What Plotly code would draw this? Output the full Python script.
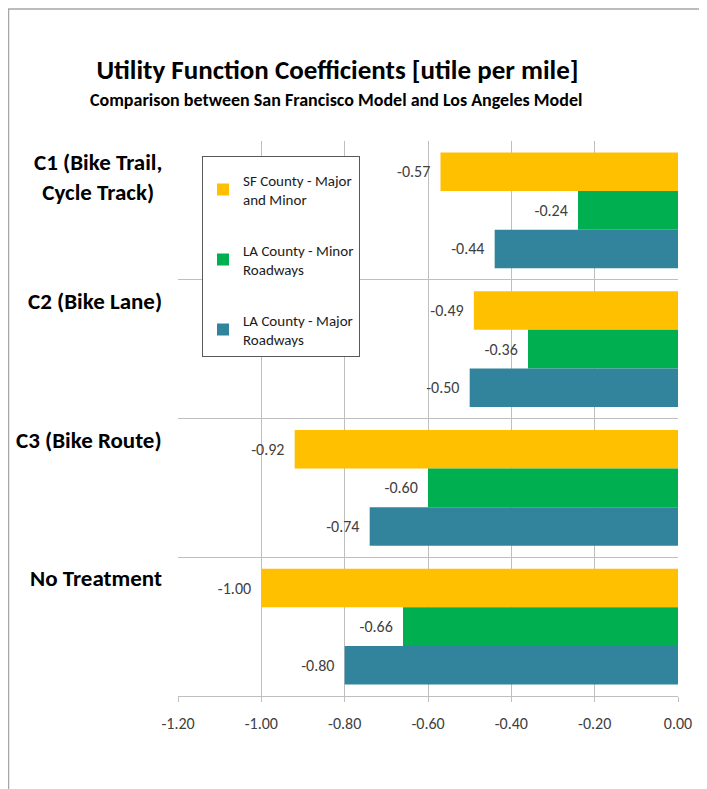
import plotly.graph_objects as go

categories = ["C1 (Bike Trail,<br>Cycle Track)", "C2 (Bike Lane)", "C3 (Bike Route)", "No Treatment"]
series_names = ["SF County - Major<br>and Minor", "LA County - Minor<br>Roadways", "LA County - Major<br>Roadways"]
sf_major_minor = [-0.57, -0.49, -0.92, -1.00]
la_minor = [-0.24, -0.36, -0.60, -0.66]
la_major = [-0.44, -0.50, -0.74, -0.80]
x_ticks = [-1.2, -1.0, -0.8, -0.6, -0.4, -0.2, 0.0]
x_tick_labels = ["-1.20", "-1.00", "-0.80", "-0.60", "-0.40", "-0.20", "0.00"]

colors = ["#FFC000", "#00B050", "#31849B"]
FONT = "Carlito, Lato, sans-serif"

OFF = 8  # browser body margin
W, H = 707 - OFF, 789 - OFF
L, R, T, B = 178 - OFF, 29, 141 - OFF, 93
pw = W - L - R
ph = H - T - B


def px_x(xw):
    return (xw - OFF - L) / pw


def px_y(yw):
    return (H - B - (yw - OFF)) / ph


ypos = list(range(len(categories)))
band_px = ph / len(categories)

fig = go.Figure()
for i, (name, vals) in enumerate(zip(series_names, [sf_major_minor, la_minor, la_major])):
    fig.add_trace(go.Bar(
        y=ypos, x=vals, orientation="h", name=name,
        marker=dict(color=colors[i], line=dict(width=0)),
        texttemplate="%{x:.2f}\u00a0\u00a0", textposition="outside",
        textfont=dict(family=FONT, size=16, color="#404040"),
        cliponaxis=False, legendgroup=f"g{i}",
    ))

boundaries = [y - 0.5 for y in ypos] + [ypos[-1] + 0.5]

annotations = []
for i, c in enumerate(categories):
    annotations.append(dict(
        text=f"<b>{c}</b>", xref="paper", yref="y",
        x=px_x(164), y=i - 0.5 + 5 / band_px,
        xanchor="right", yanchor="top", align="center", showarrow=False,
        font=dict(family=FONT, size=23, color="#000000"),
    ))

annotations.append(dict(
    text="<b>Comparison between San Francisco Model and Los Angeles Model</b>",
    xref="paper", yref="paper", x=px_x(335.5), y=px_y(100),
    xanchor="center", yanchor="middle", showarrow=False,
    font=dict(family=FONT, size=18, color="#000000"),
))

fig.update_layout(
    width=W, height=H,
    margin=dict(l=L, r=R, t=T, b=B, pad=0),
    paper_bgcolor="white", plot_bgcolor="white",
    barmode="group", bargap=0.167, bargroupgap=0,
    font=dict(family=FONT, color="#404040"),
    title=dict(text="<b>Utility Function Coefficients [utile per mile]</b>",
               x=(337.5 - OFF) / W, xref="container", xanchor="center",
               y=1 - (70 - OFF) / H, yref="container", yanchor="middle",
               font=dict(family=FONT, size=27, color="#000000")),
    xaxis=dict(range=[-1.2, 0.0], tickvals=x_ticks, ticktext=x_tick_labels,
               showgrid=True, gridcolor="#BFBFBF", gridwidth=1,
               zeroline=False, showline=True, linecolor="#BFBFBF", linewidth=1,
               ticks="outside", ticklen=5, tickcolor="#BFBFBF",
               ticklabelstandoff=8,
               tickfont=dict(family=FONT, size=16, color="#404040"),
               fixedrange=True),
    yaxis=dict(range=[ypos[-1] + 0.5, -0.5], tickvals=boundaries,
               showticklabels=False, showgrid=True, gridcolor="#BFBFBF", gridwidth=1,
               zeroline=False, showline=False, ticks=""),
    legend=dict(x=px_x(202), y=px_y(156), xanchor="left", yanchor="top",
                bgcolor="white", bordercolor="#595959", borderwidth=1,
                font=dict(family=FONT, size=15, color="#1A1A1A"),
                title=dict(text="\u00a0", font=dict(size=5)),
                tracegroupgap=28, traceorder="grouped"),
    annotations=annotations,
    shapes=[dict(type="rect", xref="paper", yref="paper",
                 x0=px_x(8.5), x1=px_x(720),
                 y0=px_y(800), y1=px_y(9),
                 line=dict(color="#A6A6A6", width=1.5), fillcolor="rgba(0,0,0,0)",
                 layer="below")],
)

fig.write_html("out.html")
